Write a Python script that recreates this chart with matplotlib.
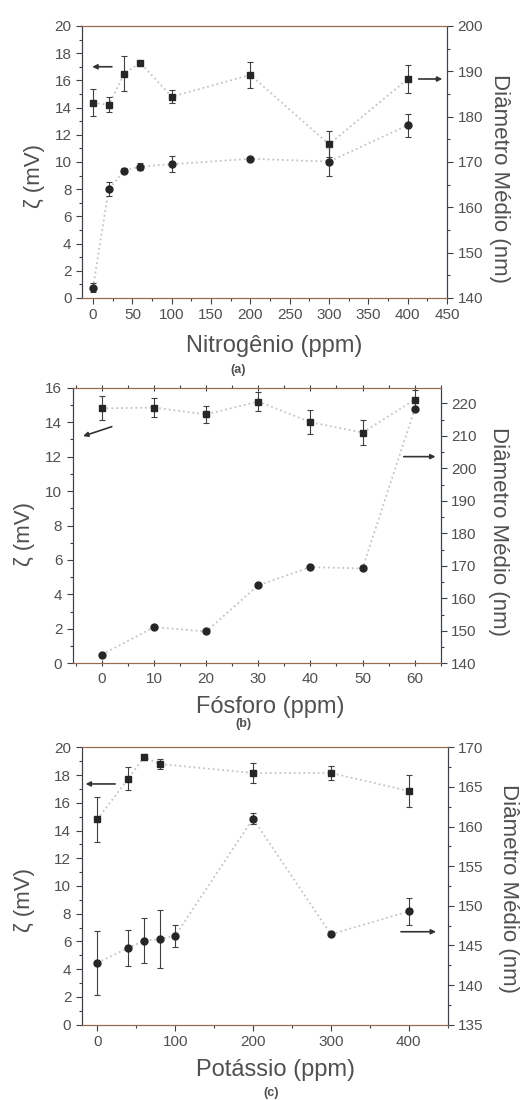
import matplotlib
matplotlib.use('Agg')
import matplotlib.pyplot as plt
from matplotlib.ticker import MultipleLocator, AutoMinorLocator

plt.rcParams.update({
    'font.family': ['Liberation Sans', 'DejaVu Sans'],
    'font.size': 11,
    'text.color': '#505050',
    'axes.labelcolor': '#505050',
    'xtick.color': '#3c4048',
    'ytick.color': '#3c4048',
    'xtick.labelcolor': '#505050',
    'ytick.labelcolor': '#505050',
    'xtick.labelsize': 11,
    'ytick.labelsize': 11,
})

# ---- data ----
# (a) Nitrogenio
n_ppm = [0, 20, 40, 60, 100, 200, 300, 400]
n_zeta = [14.35, 14.2, 16.5, 17.3, 14.8, 16.4, 11.3, 16.1]
n_zeta_err = [1.0, 0.55, 1.3, 0.1, 0.5, 0.95, 0.97, 1.0]
n_diam = [142.3, 164.0, 168.1, 169.0, 169.5, 170.7, 170.1, 178.1]
n_diam_err = [0.9, 1.6, 0.5, 0.8, 1.8, 0.5, 3.2, 2.5]

# (b) Fosforo
p_ppm = [0, 10, 20, 30, 40, 50, 60]
p_zeta = [14.8, 14.85, 14.45, 15.2, 14.0, 13.4, 15.3]
p_zeta_err = [0.7, 0.55, 0.5, 0.55, 0.7, 0.75, 0.55]
p_diam = [142.7, 151.1, 149.8, 164.0, 169.6, 169.2, 218.2]

# (c) Potassio
k_zeta_ppm = [0, 40, 60, 80, 200, 300, 400]
k_zeta = [14.8, 17.75, 19.3, 18.8, 18.15, 18.15, 16.85]
k_zeta_err = [1.6, 0.85, 0.2, 0.35, 0.72, 0.5, 1.14]
k_diam_ppm = [0, 40, 60, 80, 100, 200, 300, 400]
k_diam = [142.8, 144.7, 145.6, 145.8, 146.2, 161.0, 146.4, 149.3]
k_diam_err = [4.0, 2.3, 2.8, 3.7, 1.4, 0.7, 0.0, 1.7]

LINE = '#c4c4c4'
MARK = '#262626'
SPINE_LR = '#3c4048'
SPINE_TB = '#9a6a50'


def series(ax, x, y, yerr, marker):
    ax.plot(x, y, ls=':', lw=1.3, color=LINE, zorder=1)
    ax.errorbar(x, y, yerr=yerr, fmt=marker, ms=5, color=MARK, ecolor='#404040',
                elinewidth=0.8, capsize=2, capthick=0.8, zorder=3)


def style(ax, ax2, top_ticks=False):
    for a in (ax, ax2):
        a.spines['left'].set_color(SPINE_LR)
        a.spines['right'].set_color(SPINE_LR)
        a.spines['top'].set_color(SPINE_TB)
        a.spines['bottom'].set_color(SPINE_TB)
    ax.tick_params(axis='both', which='major', direction='out', length=4, width=0.8)
    ax.tick_params(axis='both', which='minor', direction='out', length=2, width=0.8)
    ax2.tick_params(axis='y', which='major', direction='out', length=4, width=0.8)
    ax2.tick_params(axis='y', which='minor', direction='out', length=2, width=0.8)
    if top_ticks:
        ax.tick_params(axis='x', which='both', top=True, labeltop=False)
        ax.tick_params(axis='x', which='major', direction='inout', length=5)


def labels(ax, ax2, left_xy, right_xy):
    ax.set_ylabel('ζ (mV)', fontsize=16, va='center', ha='center',
                  rotation_mode='anchor')
    ax.yaxis.set_label_coords(*left_xy)
    ax2.set_ylabel('Diâmetro Médio (nm)', fontsize=16, rotation=270,
                   va='center', ha='center', rotation_mode='anchor')
    ax2.yaxis.set_label_coords(*right_xy)


def arrow(ax, start, end):
    ax.annotate('', xy=end, xytext=start,
                arrowprops=dict(arrowstyle='-|>', color='#333333', lw=1.2,
                                mutation_scale=7, shrinkA=0, shrinkB=0))


fig = plt.figure(figsize=(5.21, 11), dpi=100)
fig.patch.set_facecolor('white')

# ---- (a) ----
axa = fig.add_axes([0.1574, 0.7291, 0.7006, 0.2473])
axa2 = axa.twinx()
series(axa, n_ppm, n_zeta, n_zeta_err, 's')
series(axa2, n_ppm, n_diam, n_diam_err, 'o')
axa.set_xlim(-14, 450)
axa.set_ylim(0, 20)
axa2.set_ylim(140, 200)
axa.xaxis.set_major_locator(MultipleLocator(50))
axa.xaxis.set_minor_locator(AutoMinorLocator(2))
axa.yaxis.set_major_locator(MultipleLocator(2))
axa.yaxis.set_minor_locator(AutoMinorLocator(2))
axa2.yaxis.set_major_locator(MultipleLocator(10))
axa2.yaxis.set_minor_locator(AutoMinorLocator(2))
style(axa, axa2)
arrow(axa, (24, 17.0), (-1, 17.0))
arrow(axa, (414, 16.1), (444, 16.1))
labels(axa, axa2, (-0.129, 0.45), (1.145, 0.44))
fig.text(274 / 521, 1 - 346 / 1100, 'Nitrogênio (ppm)', fontsize=17, ha='center', va='center')
fig.text(238 / 521, 1 - 370 / 1100, '(a)', fontsize=9, fontweight='bold', ha='center', va='center')

# ---- (b) ----
axb = fig.add_axes([0.1395, 0.397, 0.7064, 0.2505])
axb2 = axb.twinx()
series(axb, p_ppm, p_zeta, p_zeta_err, 's')
axb2.plot(p_ppm, p_diam, ls=':', lw=1.3, color=LINE, zorder=1)
axb2.plot(p_ppm, p_diam, 'o', ms=5, color=MARK, zorder=3)
axb.set_xlim(-5.6, 65)
axb.set_ylim(0, 16)
axb2.set_ylim(140, 224.8)
axb.xaxis.set_major_locator(MultipleLocator(10))
axb.xaxis.set_minor_locator(AutoMinorLocator(2))
axb.yaxis.set_major_locator(MultipleLocator(2))
axb.yaxis.set_minor_locator(AutoMinorLocator(2))
axb2.yaxis.set_major_locator(MultipleLocator(10))
axb2.yaxis.set_minor_locator(AutoMinorLocator(2))
style(axb, axb2, top_ticks=True)
arrow(axb, (1.9, 13.74), (-3.6, 13.19))
arrow(axb, (57.9, 12.0), (64.0, 12.0))
labels(axb, axb2, (-0.13, 0.47), (1.156, 0.478))
fig.text(270 / 521, 1 - 707 / 1100, 'Fósforo (ppm)', fontsize=17, ha='center', va='center')
fig.text(243 / 521, 1 - 724 / 1100, '(b)', fontsize=9, fontweight='bold', ha='center', va='center')

# ---- (c) ----
axc = fig.add_axes([0.1568, 0.0685, 0.7025, 0.2521])
axc2 = axc.twinx()
series(axc, k_zeta_ppm, k_zeta, k_zeta_err, 's')
series(axc2, k_diam_ppm, k_diam, k_diam_err, 'o')
axc.set_xlim(-20, 450)
axc.set_ylim(0, 20)
axc2.set_ylim(135, 170)
axc.xaxis.set_major_locator(MultipleLocator(100))
axc.xaxis.set_minor_locator(AutoMinorLocator(2))
axc.yaxis.set_major_locator(MultipleLocator(2))
axc.yaxis.set_minor_locator(AutoMinorLocator(2))
axc2.yaxis.set_major_locator(MultipleLocator(5))
axc2.yaxis.set_minor_locator(AutoMinorLocator(2))
style(axc, axc2)
arrow(axc, (23, 17.36), (-15, 17.36))
arrow(axc, (390, 6.7), (435, 6.7))
labels(axc, axc2, (-0.155, 0.45), (1.165, 0.49))
fig.text(276 / 521, 1 - 1070 / 1100, 'Potássio (ppm)', fontsize=17, ha='center', va='center')
fig.text(271 / 521, 1 - 1093 / 1100, '(c)', fontsize=9, fontweight='bold', ha='center', va='center')

fig.savefig('out.png', dpi=100, facecolor='white')
